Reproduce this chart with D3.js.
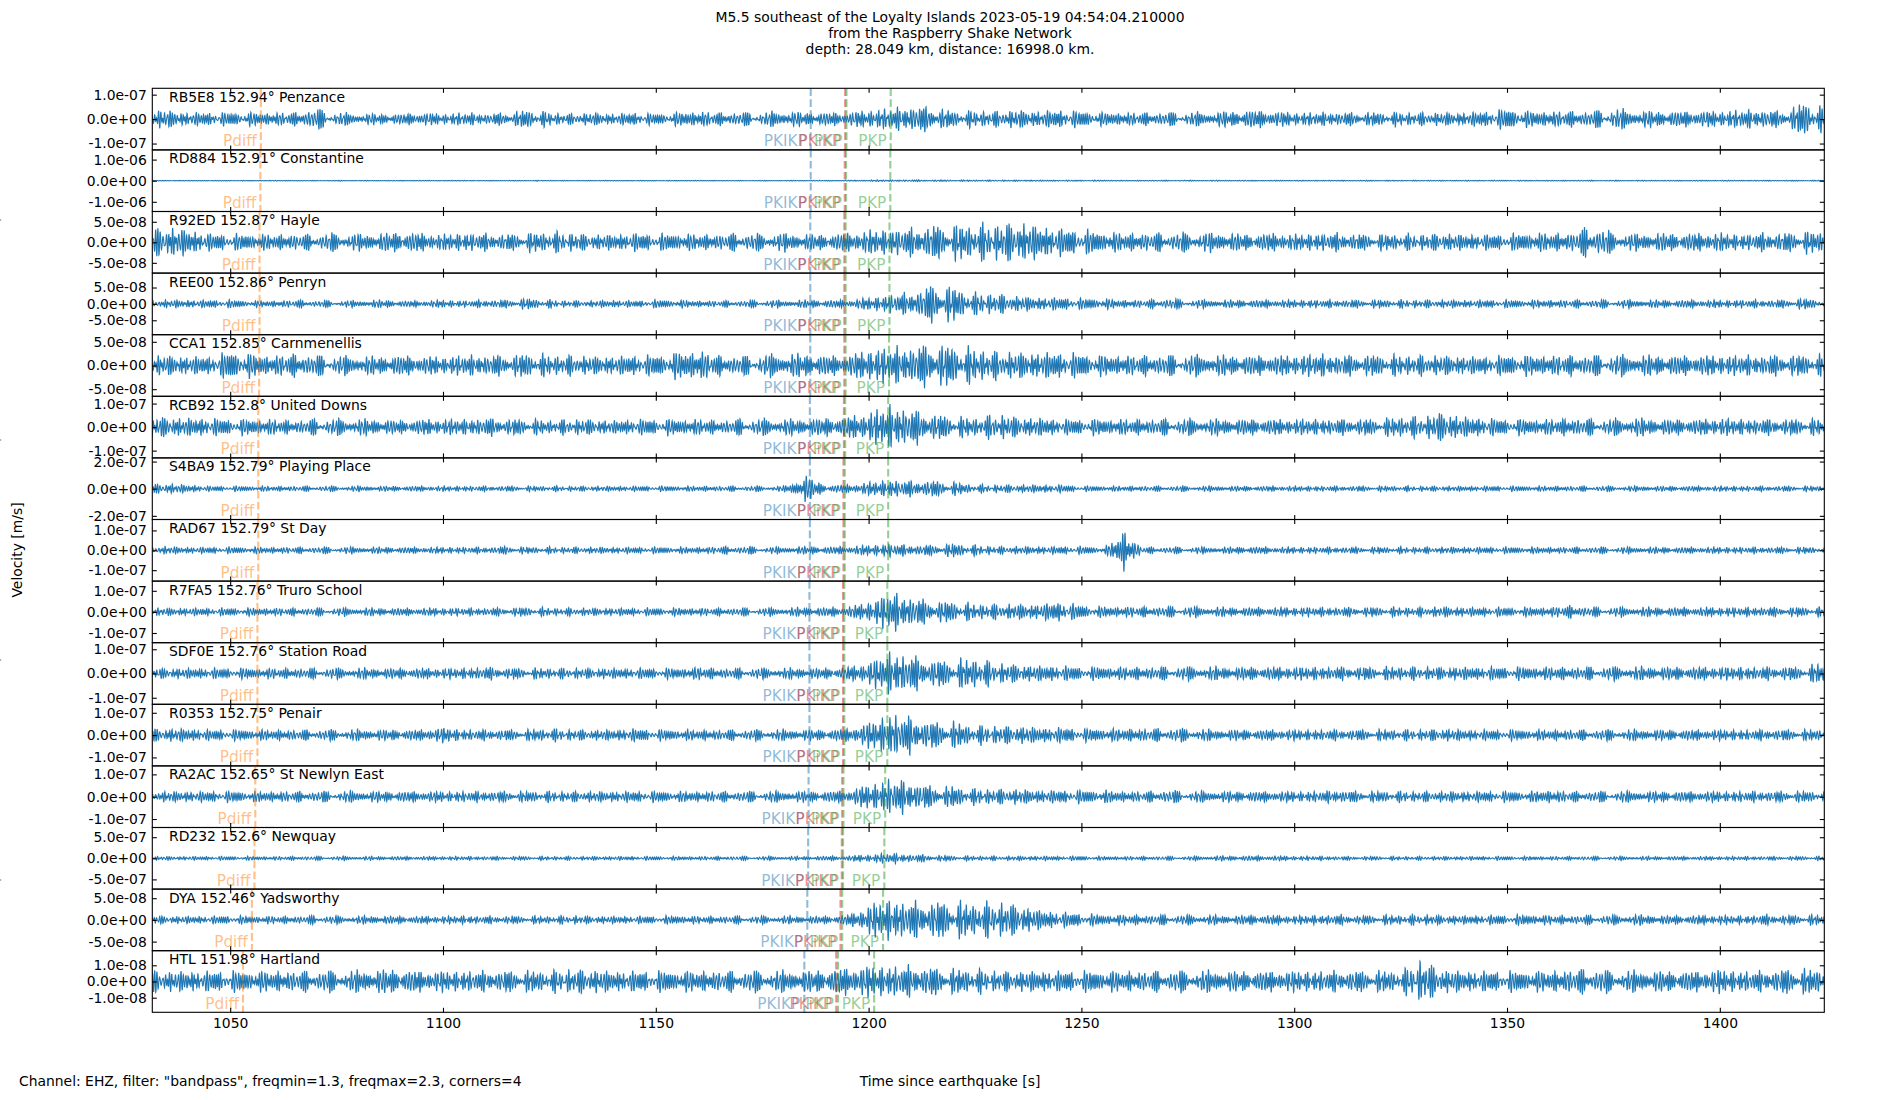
<!DOCTYPE html>
<html lang="en">
<head>
<meta charset="UTF-8">
<title>shake-section</title>
<script src="https://cdn.jsdelivr.net/npm/d3@7"></script>
<style>
    body { margin: 0; background: #fff; }
    svg text { font-family: "DejaVu Sans", sans-serif; font-size: 13.9px; fill: #000; }
    svg text.phase { font-size: 15.3px; }
</style>
</head>
<body>
<svg id="chart"></svg>
<script>
var width = 1900;
var height = 1100;

// stations, top to bottom
var stations = ['RB5E8', 'RD884', 'R92ED', 'REE00', 'CCA1', 'RCB92', 'S4BA9', 'RAD67',
                'R7FA5', 'SDF0E', 'R0353', 'RA2AC', 'RD232', 'DYA', 'HTL'];
var distances = ['152.94', '152.91', '152.87', '152.86', '152.85', '152.8', '152.79', '152.79',
                 '152.76', '152.76', '152.75', '152.65', '152.6', '152.46', '151.98'];
var places = ['Penzance', 'Constantine', 'Hayle', 'Penryn', 'Carnmenellis', 'United Downs',
              'Playing Place', 'St Day', 'Truro School', 'Station Road', 'Penair',
              'St Newlyn East', 'Newquay', 'Yadsworthy', 'Hartland'];

// y tick per row and half height of each y axis (m/s)
var tickValues = [1e-7, 1e-6, 5e-8, 5e-8, 5e-8, 1e-7, 2e-7, 1e-7, 1e-7, 1e-7, 1e-7, 1e-7, 5e-7, 5e-8, 1e-8];
var yLimits = [1.26e-7, 1.46e-6, 7.5e-8, 9.4e-8, 6.5e-8, 1.31e-7, 2.27e-7, 1.55e-7, 1.46e-7,
               1.27e-7, 1.38e-7, 1.38e-7, 7.3e-7, 7.1e-8, 1.9e-8];

// arrival times per row [s]
var tPdiff = [1057.2, 1057.1, 1056.9, 1056.9, 1056.8, 1056.6, 1056.6, 1056.6, 1056.4, 1056.4, 1056.4, 1055.9, 1055.7, 1055.1, 1053.0];
var tPKIKP = [1186.4, 1186.4, 1186.3, 1186.3, 1186.3, 1186.2, 1186.2, 1186.2, 1186.1, 1186.1, 1186.1, 1185.9, 1185.8, 1185.6, 1184.9];
var tPKiKP = [1194.5, 1194.4, 1194.3, 1194.3, 1194.3, 1194.2, 1194.1, 1194.1, 1194.0, 1194.0, 1194.0, 1193.8, 1193.7, 1193.4, 1192.4];
var tPKPbc = [1194.8, 1194.7, 1194.6, 1194.6, 1194.6, 1194.5, 1194.4, 1194.4, 1194.3, 1194.3, 1194.3, 1194.1, 1194.0, 1193.8, 1192.8];
var tPKPab = [1205.2, 1205.1, 1204.9, 1204.9, 1204.8, 1204.6, 1204.6, 1204.6, 1204.4, 1204.4, 1204.4, 1203.9, 1203.7, 1203.4, 1201.3];

var phaseNames = ['Pdiff', 'PKIKP', 'PKiKP', 'PKP', 'PKP'];
var phaseColors = ['#ff7f0e', '#1f77b4', '#d62728', '#2ca02c', '#2ca02c'];
var arrivals = [tPdiff, tPKIKP, tPKiKP, tPKPbc, tPKPab];

var xTicks = [1050, 1100, 1150, 1200, 1250, 1300, 1350, 1400];

// trace amplitude envelope, nm/s, one value every 5 s from 1030 s
var envStart = 1030, envStep = 5;
var envRB5E8 = [35,35,25,25,25,25,25,25,40,25, 20,20,20,25,20,25,20,25,35,25, 20,25,20,25,20,25,30,25,25,25,
                30,25,25,25,35,40,50,45,30,30, 30,35,30,35,30,25,25,25,25,25, 25,30,35,30,25,25,25,25,25,25,
                25,25,25,30,40,30,30,30,30,40, 30,30,30,30,30,35,35,30,69,40];
var envRD884 = [15,15,15,14,15,16,15,14,15,15, 15,14,15,16,15,15,14,15,15,16, 15,15,14,15,15,16,15,15,14,15,
                15,16,15,20,35,40,40,35,35,30, 30,30,28,25,25,25,20,20,20,20, 20,20,20,20,20,20,20,20,20,20,
                20,20,20,20,20,20,20,20,20,20, 20,20,20,20,20,20,20,20,20,20];
var envR92ED = [30,35,30,20,18,18,18,18,18,20, 18,20,24,21,18,21,20,18,21,24, 21,18,18,21,18,20,18,18,21,18,
                20,18,18,21,27,30,32,38,38,41, 41,47,38,32,28,24,21,21,21,21, 21,21,18,21,18,20,21,18,18,18,
                18,21,18,18,18,21,21,21,41,21, 18,21,20,21,21,18,21,21,24,24];
var envREE00 = [11,11,11,11,11,9,9,11,9,9, 9,11,9,9,11,9,11,11,15,11, 9,9,11,9,11,11,9,9,9,11,
                9,11,11,11,18,26,33,55,48,30, 30,22,18,18,15,15,11,11,15,11, 11,11,11,11,11,11,11,11,11,11,
                11,11,11,11,11,11,11,11,11,11, 11,11,11,11,11,11,11,11,15,11];
var envCCA1 = [20,20,18,18,28,23,20,23,20,18, 18,18,20,18,18,20,20,20,23,20, 20,18,18,20,20,26,31,20,18,20,
               23,23,20,20,33,36,38,43,38,33, 28,26,26,26,23,20,20,20,20,20, 20,20,20,20,20,23,20,20,20,20,
               20,20,18,18,20,20,20,20,20,20, 20,20,20,20,20,20,20,20,20,20];
var envRCB92 = [41,41,36,36,31,31,31,26,31,31, 31,31,26,31,31,31,36,31,31,26, 31,31,26,31,31,31,31,26,31,31,
                31,31,36,41,62,88,72,52,41,36, 52,41,36,31,31,31,31,31,31,31, 31,31,31,31,31,31,31,31,31,41,
                41,62,41,36,31,31,31,36,31,31, 36,31,31,31,36,31,31,31,31,31];
var envS4BA9 = [27,36,27,18,18,18,18,18,18,18, 18,18,18,18,18,18,18,18,18,18, 18,18,18,18,18,18,18,18,18,18,
                18,107,27,27,45,62,53,53,45,27, 27,27,27,27,18,18,18,18,18,18, 18,18,18,18,18,18,18,18,18,18,
                18,18,18,18,18,18,18,18,18,18, 18,18,18,18,18,18,18,18,18,18];
var envRAD67 = [18,18,15,15,15,15,15,15,15,15, 15,15,15,15,15,15,15,18,15,15, 15,15,15,15,15,15,15,18,18,15,
                15,18,18,18,24,31,24,24,31,24, 18,18,18,18,18,15,110,15,15,15, 15,15,18,15,15,15,15,15,15,15,
                15,15,15,15,15,15,15,15,15,15, 15,15,15,15,15,15,15,15,15,15];
var envR7FA5 = [17,17,17,17,17,17,17,17,17,17, 17,17,17,17,17,17,17,17,20,17, 17,17,17,17,17,17,17,17,17,17,
                17,20,20,23,46,91,68,46,46,34, 34,34,34,46,29,23,23,23,23,23, 20,20,20,20,20,20,20,20,20,20,
                20,23,20,20,20,20,20,29,20,20, 20,20,20,20,20,20,20,20,20,20];
var envSDF0E = [20,20,20,20,20,20,20,20,20,20, 20,20,20,20,20,20,25,20,20,20, 20,20,20,20,20,20,25,20,20,20,
                20,20,20,25,45,85,70,50,50,60, 40,35,30,30,25,25,25,25,25,25, 25,25,25,25,25,25,25,25,25,25,
                25,25,25,25,25,25,25,25,25,25, 25,25,25,25,25,25,25,25,25,50];
var envR0353 = [27,27,27,22,22,22,22,22,22,22, 22,22,22,22,32,22,22,22,22,27, 22,22,22,27,22,22,22,22,22,22,
                22,22,22,27,54,92,76,54,54,38, 38,38,32,32,27,27,27,27,27,27, 22,22,22,22,22,22,22,22,22,22,
                22,27,22,22,22,22,22,22,22,22, 22,22,22,22,22,22,22,22,22,22];
var envRA2AC = [22,22,22,22,22,22,22,22,22,22, 22,22,22,22,22,22,22,22,22,22, 22,22,22,22,22,22,22,22,22,22,
                22,22,22,27,54,76,65,43,43,32, 32,32,27,27,27,27,22,22,27,22, 22,22,22,22,22,22,27,22,22,22,
                22,22,22,22,22,22,27,22,22,22, 22,22,22,22,22,22,22,22,22,22];
var envRD232 = [43,43,43,43,43,43,43,43,43,43, 43,43,43,43,43,43,43,43,43,43, 43,43,43,43,43,43,43,43,43,43,
                43,43,50,57,86,115,86,72,57,50, 50,50,50,50,50,43,43,43,43,43, 50,57,57,57,50,50,43,43,43,43,
                43,43,43,43,43,43,43,43,43,43, 43,43,43,43,43,43,43,43,43,43];
var envDYA = [11,8,8,8,9,8,8,8,9,8, 8,9,8,8,8,9,8,8,8,8, 9,8,8,8,8,9,8,8,8,8,
              8,8,8,11,34,45,39,39,39,36, 39,34,22,17,14,11,11,10,11,10, 10,9,11,10,9,10,11,9,10,10,
              11,10,9,10,10,11,10,9,10,10, 11,10,9,10,10,9,11,10,10,11];
var envHTL = [7,6,6,6,6,6,6,6,6,6, 6,7,7,6,6,6,6,6,6,6, 7,7,6,6,6,6,6,6,6,6,
              6,6,7,8,9,9,9,8,7,7, 6,6,6,6,6,6,6,6,6,6, 6,6,6,6,6,6,6,6,6,6,
              13,7,6,6,6,6,6,7,7,6, 6,6,6,6,7,6,6,7,7,7];

var envelopes = [envRB5E8, envRD884, envR92ED, envREE00, envCCA1, envRCB92, envS4BA9, envRAD67,
                 envR7FA5, envSDF0E, envR0353, envRA2AC, envRD232, envDYA, envHTL];

// filtered-noise texture (1.3-2.3 Hz band) carrying the envelope
var bandFreqs = [1.33, 1.47, 1.62, 1.79, 1.93, 2.08, 2.27];
function wiggle(t, i) {
    var s = 0;
    for (var k = 0; k < bandFreqs.length; k++) {
        s += Math.sin(2 * Math.PI * bandFreqs[k] * t + (i + 1) * (k + 1) * 1.618 + k * k * 0.7);
    }
    return s * 0.26;
}

function fmtE(v) {
    if (v === 0) return '0.0e+00';
    return v.toExponential(1).replace(/e([+-])(\d)$/, 'e$10$2');
}

var svg = d3.select('#chart')
    .attr('width', width)
    .attr('height', height);

svg.append('rect').attr('width', width).attr('height', height).attr('fill', '#fff');

var x = d3.scaleLinear().domain([1031.7, 1424.55]).range([152.3, 1824.3]);
var band = d3.scaleBand().domain(d3.range(stations.length)).range([88.3, 1012.3]);
var h = band.bandwidth();

var tSamples = d3.range(x.domain()[0], x.domain()[1], 0.05);
var envTimes = envelopes[0].map(function (d, k) { return envStart + k * envStep; });

var defs = svg.append('defs');

stations.forEach(function (name, i) {
    var top = band(i);
    var y = d3.scaleLinear().domain([-yLimits[i], yLimits[i]]).range([top + h, top]);
    // envelope interpolated in log space
    var logEnv = d3.scaleLinear().domain(envTimes).range(envelopes[i].map(Math.log)).clamp(true);
    var g = svg.append('g').attr('class', 'row');

    defs.append('clipPath').attr('id', 'clip' + i)
        .append('rect')
        .attr('x', x.range()[0]).attr('y', top)
        .attr('width', x.range()[1] - x.range()[0]).attr('height', h);

    var line = d3.line()
        .x(function (t) { return x(t); })
        .y(function (t) { return y(Math.exp(logEnv(t)) * 1e-9 * wiggle(t, i)); });

    g.append('path')
        .attr('d', line(tSamples))
        .attr('fill', 'none')
        .attr('stroke', '#1f77b4')
        .attr('stroke-width', 1.1)
        .attr('clip-path', 'url(#clip' + i + ')');

    // arrival lines and labels
    arrivals.forEach(function (arr, p) {
        var px = x(arr[i]);
        g.append('line')
            .attr('x1', px).attr('x2', px)
            .attr('y1', top).attr('y2', top + h)
            .attr('stroke', phaseColors[p])
            .attr('stroke-opacity', 0.5)
            .attr('stroke-width', 2.1)
            .attr('stroke-dasharray', '7.7,3.3');
        g.append('text')
            .attr('class', 'phase')
            .attr('x', px - 4)
            .attr('y', top + h - 3.5)
            .attr('text-anchor', 'end')
            .style('fill', phaseColors[p])
            .style('fill-opacity', 0.5)
            .text(phaseNames[p]);
    });

    g.append('text')
        .attr('x', x.range()[0] + 16.7)
        .attr('y', top + 13.4)
        .text(name + ' ' + distances[i] + '\u00b0 ' + places[i]);

    // y axis, ticks pointing in
    var tv = [-tickValues[i], 0, tickValues[i]];
    var yl = g.append('g')
        .attr('transform', 'translate(' + x.range()[0] + ',0)')
        .call(d3.axisLeft(y).tickValues(tv).tickFormat(fmtE).tickSizeInner(-4.5).tickSizeOuter(0).tickPadding(5.5));
    var yr = g.append('g')
        .attr('transform', 'translate(' + x.range()[1] + ',0)')
        .call(d3.axisRight(y).tickValues(tv).tickFormat('').tickSizeInner(-4.5).tickSizeOuter(0));
    var xt = g.append('g')
        .attr('transform', 'translate(0,' + top + ')')
        .call(d3.axisTop(x).tickValues(xTicks).tickFormat('').tickSizeInner(-4.5).tickSizeOuter(0));
    var last = i === stations.length - 1;
    var xb = g.append('g')
        .attr('transform', 'translate(0,' + (top + h) + ')')
        .call(d3.axisBottom(x).tickValues(xTicks).tickFormat(last ? d3.format('d') : '')
            .tickSizeInner(-4.5).tickSizeOuter(0).tickPadding(6));

    [yl, yr, xt, xb].forEach(function (a) {
        a.attr('font-size', null).attr('font-family', null);
        a.select('.domain').remove();
        a.selectAll('.tick line').attr('stroke', '#000').attr('stroke-width', 1.1);
    });

    g.append('rect')
        .attr('x', x.range()[0]).attr('y', top)
        .attr('width', x.range()[1] - x.range()[0]).attr('height', h)
        .attr('fill', 'none')
        .attr('stroke', '#000')
        .attr('stroke-width', 1.1);
});

// titles and labels
var titleLines = ['M5.5 southeast of the Loyalty Islands 2023-05-19 04:54:04.210000',
                  'from the Raspberry Shake Network',
                  'depth: 28.049 km, distance: 16998.0 km.'];
svg.selectAll('.title')
    .data(titleLines)
    .enter()
    .append('text')
    .attr('class', 'title')
    .attr('x', width / 2)
    .attr('y', function (d, k) { return 22 + k * 16; })
    .attr('text-anchor', 'middle')
    .text(function (d) { return d; });

svg.append('text')
    .attr('x', width / 2)
    .attr('y', 1086)
    .attr('text-anchor', 'middle')
    .text('Time since earthquake [s]');

svg.append('text')
    .attr('x', 19)
    .attr('y', 1086)
    .text('Channel: EHZ, filter: "bandpass", freqmin=1.3, freqmax=2.3, corners=4');

svg.append('text')
    .attr('transform', 'translate(22,550) rotate(-90)')
    .attr('text-anchor', 'middle')
    .text('Velocity [m/s]');

// stray ticks of the full-figure axis at the left edge
svg.selectAll('.edge')
    .data([220, 440, 660, 880])
    .enter()
    .append('line')
    .attr('x1', 0).attr('x2', 1.2)
    .attr('y1', function (d) { return d; })
    .attr('y2', function (d) { return d; })
    .attr('stroke', '#666')
    .attr('stroke-width', 1);
</script>
</body>
</html>
